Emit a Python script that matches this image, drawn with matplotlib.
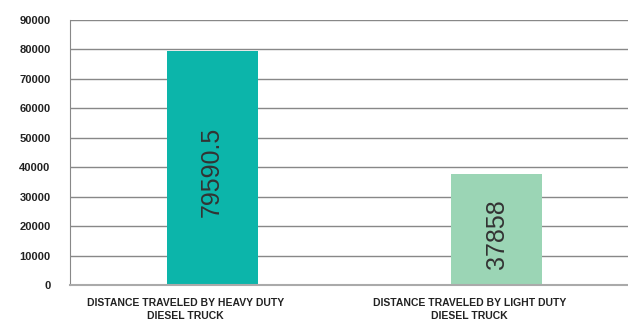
import matplotlib
matplotlib.use("Agg")
import matplotlib.pyplot as plt

categories = ["DISTANCE TRAVELED BY HEAVY DUTY\nDIESEL TRUCK",
              "DISTANCE TRAVELED BY LIGHT DUTY\nDIESEL TRUCK"]
distances = [79590.5, 37858]
value_labels = ["79590.5", "37858"]
bar_colors = ["#0cb5aa", "#9bd5b5"]
y_ticks = list(range(0, 90001, 10000))

fig = plt.figure(figsize=(6.28, 3.24), dpi=100)
ax = fig.add_axes([70/628, 39/324, 569/628, 265/324])

x = list(range(len(categories)))
bars = ax.bar(x, distances, width=0.32, color=bar_colors, zorder=2)

for b, txt in zip(bars, value_labels):
    ax.text(b.get_x() + b.get_width()/2, b.get_height()/2 - 1500, txt,
            rotation=90, ha="center", va="center", fontsize=18,
            color="#333333", family="Liberation Sans", zorder=3)

ax.set_xlim(-0.5, 1.5)
ax.set_ylim(0, 90000)
ax.set_yticks(y_ticks)
ax.set_yticklabels([str(v) for v in y_ticks], fontsize=8,
                   fontweight="bold", family="Liberation Sans", color="#222222")

# category names, set a bit left of each bar centre
ax.set_xticks(x)
ax.set_xticklabels([])
for xi, name in zip(x, categories):
    ax.annotate(name, xy=(xi, 0), xycoords=ax.get_xaxis_transform(),
                xytext=(-19.5, -9.5), textcoords="offset points",
                ha="center", va="top", multialignment="center",
                fontsize=7.5, fontweight="bold", family="Liberation Sans",
                color="#222222", linespacing=1.3, annotation_clip=False)

ax.tick_params(axis="both", length=0)
ax.tick_params(axis="y", pad=14)

ax.grid(axis="y", color="#888888", linewidth=1, zorder=1)
for side in ["top", "right"]:
    ax.spines[side].set_visible(False)
ax.spines["left"].set_color("#888888")
ax.spines["bottom"].set_color("#aaaaaa")
ax.spines["bottom"].set_linewidth(1.5)

fig.savefig("out.png", dpi=100)
